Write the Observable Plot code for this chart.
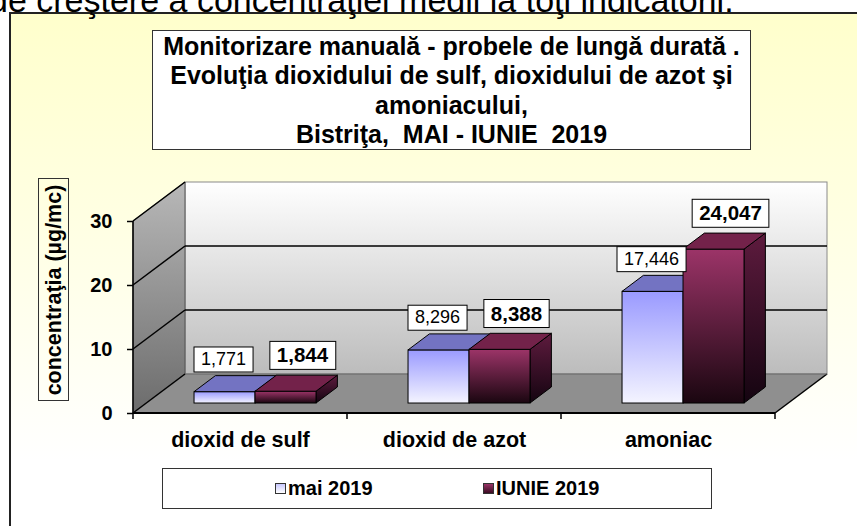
<!DOCTYPE html>
<html>
<head>
<meta charset="utf-8">
<script src="https://cdn.jsdelivr.net/npm/d3@7"></script>
<script src="https://cdn.jsdelivr.net/npm/@observablehq/plot@0.6"></script>
<style>
  html, body { margin: 0; padding: 0; }
  body { width: 857px; height: 526px; overflow: hidden; position: relative; background: #ffffff;
         font-family: "Liberation Sans", Arial, sans-serif; color: #000; }
  #panel { position: absolute; left: 9px; top: 12px; width: 860px; height: 530px;
           border: 2px solid #222; box-sizing: border-box;
           background: linear-gradient(#ffffcc 0%, #ffffe6 45%, #ffffff 85%); }
  #lead { position: absolute; left: -11px; top: -17px; font-size: 34px; line-height: 34px; white-space: nowrap; z-index: 5; }
  #chart { position: absolute; left: 0; top: 0; }
  #title { position: absolute; left: 152px; top: 30px; width: 599px; height: 120px; box-sizing: border-box;
           border: 1px solid #333; background: #fff; text-align: center; font-weight: bold;
           font-size: 25px; line-height: 29.3px; padding-top: 1px; white-space: nowrap; }
  #ytitle { position: absolute; left: 38px; top: 178px; width: 31px; height: 223px; box-sizing: border-box;
            border: 1px solid #333; }
  #ytitle span { position: absolute; left: 50%; top: 50%; transform: translate(-50%, -50%) rotate(-90deg);
                 white-space: nowrap; font-weight: bold; font-size: 21.5px; }
  #legend { position: absolute; left: 162px; top: 468px; width: 550px; height: 41px; box-sizing: border-box;
            border: 1px solid #333; background: #fff; font-weight: bold; font-size: 20px; }
  .item { position: absolute; top: 8px; line-height: 23px; white-space: nowrap; }
  .sw { display: inline-block; width: 9px; height: 9px; border: 1px solid #333; margin-right: 2px; vertical-align: 1px; }
</style>
</head>
<body>
<div id="panel"></div>
<div id="lead"></div>
<div id="chart"></div>
<div id="title"></div>
<div id="ytitle"><span></span></div>
<div id="legend"></div>
<script>
// ---------------- data ----------------
const leadText = "de creştere a concentraţiei medii la toţi indicatorii.";
const titleLines = [
  "Monitorizare manuală - probele de lungă durată .",
  "Evoluţia dioxidului de sulf, dioxidului de azot şi",
  "amoniacului,",
  "Bistriţa,\u00a0 MAI - IUNIE\u00a0 2019"
];
const yTitle = "concentraţia (µg/mc)";
const categories = ["dioxid de sulf", "dioxid de azot", "amoniac"];
const seriesNames = ["mai 2019", "IUNIE 2019"];
const mai2019 = [1.771, 8.296, 17.446];
const iunie2019 = [1.844, 8.388, 24.047];
const yTicks = [0, 10, 20, 30];

// ---------------- styles / layout constants ----------------
const DX = 52, DY = -39;             // depth projection of the 3D box
const Z0 = 0.256, Z1 = 0.667;        // bar depth (fraction of box depth)
const SLOT = [0.223, 0.508], SLOT_W = 0.285; // bar placement within each band
const LABEL_OFF = [[-1, -33], [17, -36]];
const seriesStyle = [
  {front: ["#9a9aff", "#f4f4ff"], top: "#7373c2", side: ["#50509c", "#2a2a60"], bold: false, font: 18, sw: ["#c8c8ff", "#ffffff"]},
  {front: ["#9c3468", "#1a0610"], top: "#73224a", side: ["#5e1b3e", "#140410"], bold: true, font: 20.5, sw: ["#993366", "#3a0c22"]}
];

const series = [mai2019, iunie2019];
const table = [];
categories.forEach((c, i) => series.forEach((s, j) => table.push({category: c, series: j, value: s[i]})));
const fmt = v => v.toFixed(3).replace(".", ",");

// ---------------- HTML texts ----------------
document.getElementById("lead").textContent = leadText;
document.getElementById("title").innerHTML = titleLines.map(t => `<div>${t}</div>`).join("");
document.querySelector("#ytitle span").textContent = yTitle;
document.getElementById("legend").innerHTML = seriesNames.map((n, j) =>
  `<div class="item" style="left:${j === 0 ? 112 : 320}px"><span class="sw" style="background:linear-gradient(${seriesStyle[j].sw[0]},${seriesStyle[j].sw[1]})"></span>${n}</div>`).join("");

function fnOf(s) {
  if (typeof s === "function") return s;
  return v => s.apply(v);
}
function getScales(scales) {
  const rx = (scales.scales && scales.scales.x) || scales.x;
  const ry = (scales.scales && scales.scales.y) || scales.y;
  const sx = fnOf(rx), sy = fnOf(ry);
  const bw = typeof rx.bandwidth === "function" ? rx.bandwidth() : rx.bandwidth;
  return {sx, sy, bw};
}
const path = pts => "M" + pts.map(p => p.join(",")).join("L") + "Z";

function addGrad(defs, id, c0, c1) {
  const lg = defs.append("linearGradient").attr("id", id).attr("x1", 0).attr("y1", 0).attr("x2", 0).attr("y2", 1);
  lg.append("stop").attr("offset", "0%").attr("stop-color", c0);
  lg.append("stop").attr("offset", "100%").attr("stop-color", c1);
}

// the 3D box: floor, side wall, back wall, grid
function scene(index, scales) {
  const {sx, sy, bw} = getScales(scales);
  const x0 = sx(categories[0]), x1 = sx(categories[categories.length - 1]) + bw;
  const y0 = sy(0), yT = sy(yTicks[yTicks.length - 1]);
  const g = d3.create("svg:g");
  const defs = g.append("defs");
  addGrad(defs, "gBack", "#ffffff", "#bcbcbc");
  addGrad(defs, "gSide", "#b8b8b8", "#6c6c6c");
  seriesStyle.forEach((s, j) => {
    addGrad(defs, "gFront" + j, s.front[0], s.front[1]);
    addGrad(defs, "gSide" + j, s.side[0], s.side[1]);
  });
  g.append("rect").attr("x", x0 + DX).attr("y", yT + DY).attr("width", x1 - x0).attr("height", y0 - yT)
    .attr("fill", "url(#gBack)").attr("stroke", "#8a8a8a").attr("stroke-width", 1);
  g.append("path").attr("d", path([[x0, y0], [x0, yT], [x0 + DX, yT + DY], [x0 + DX, y0 + DY]]))
    .attr("fill", "url(#gSide)").attr("stroke", "#555").attr("stroke-width", 1);
  g.append("path").attr("d", path([[x0, y0], [x1, y0], [x1 + DX, y0 + DY], [x0 + DX, y0 + DY]]))
    .attr("fill", "#8f8f8f");
  g.append("line").attr("x1", x1).attr("y1", y0).attr("x2", x1 + DX).attr("y2", y0 + DY)
    .attr("stroke", "#000").attr("stroke-width", 1.5);
  g.append("line").attr("x1", x0 + DX).attr("y1", y0 + DY).attr("x2", x1 + DX).attr("y2", y0 + DY)
    .attr("stroke", "#666").attr("stroke-width", 1);
  yTicks.forEach(t => {
    const y = sy(t);
    g.append("line").attr("x1", x0).attr("y1", y).attr("x2", x0 + DX).attr("y2", y + DY)
      .attr("stroke", "#000").attr("stroke-width", 1.5);
    if (t > 0 && t < yTicks[yTicks.length - 1])
      g.append("line").attr("x1", x0 + DX).attr("y1", y + DY).attr("x2", x1 + DX).attr("y2", y + DY)
        .attr("stroke", "#000").attr("stroke-width", 1.5);
  });
  g.append("line").attr("x1", x0).attr("y1", y0).attr("x2", x0).attr("y2", yT).attr("stroke", "#000").attr("stroke-width", 1.5);
  g.append("line").attr("x1", x0).attr("y1", y0).attr("x2", x1).attr("y2", y0).attr("stroke", "#000").attr("stroke-width", 2);
  [...categories.map(c => sx(c)), x1].forEach(x =>
    g.append("line").attr("x1", x).attr("y1", y0).attr("x2", x).attr("y2", y0 + 6).attr("stroke", "#000").attr("stroke-width", 1.5));
  return g.node();
}

// the 3D bars and their labels
function bars(index, scales) {
  const {sx, sy, bw} = getScales(scales);
  const g = d3.create("svg:g");
  const fx = Z0 * DX, fy = Z0 * DY, dd = Z1 - Z0;
  table.forEach(d => {
    const s = seriesStyle[d.series];
    const xl = sx(d.category) + SLOT[d.series] * bw + fx;
    const xr = xl + SLOT_W * bw;
    const yb = sy(0) + fy, yt = sy(d.value) + fy;
    const ox = dd * DX, oy = dd * DY;
    g.append("path").attr("d", path([[xr, yt], [xr + ox, yt + oy], [xr + ox, yb + oy], [xr, yb]]))
      .attr("fill", `url(#gSide${d.series})`).attr("stroke", "#000").attr("stroke-width", 1);
    g.append("rect").attr("x", xl).attr("y", yt).attr("width", xr - xl).attr("height", yb - yt)
      .attr("fill", `url(#gFront${d.series})`).attr("stroke", "#000").attr("stroke-width", 1);
    g.append("path").attr("d", path([[xl, yt], [xr, yt], [xr + ox, yt + oy], [xl + ox, yt + oy]]))
      .attr("fill", s.top).attr("stroke", "#000").attr("stroke-width", 1);
  });
  table.forEach(d => {
    const s = seriesStyle[d.series];
    const xc = sx(d.category) + (SLOT[d.series] + SLOT_W / 2) * bw + fx + LABEL_OFF[d.series][0];
    const yc = sy(d.value) + fy + LABEL_OFF[d.series][1];
    g.append("text").attr("class", "dlabel").attr("x", xc).attr("y", yc)
      .attr("text-anchor", "middle").attr("dy", "0.35em")
      .attr("font-size", s.font).attr("font-weight", s.bold ? "bold" : "normal")
      .attr("fill", "#000").text(fmt(d.value));
  });
  return g.node();
}

const chart = Plot.plot({
  width: 857, height: 526,
  marginLeft: 133, marginRight: 82, marginTop: 221, marginBottom: 113,
  x: {type: "band", domain: categories, padding: 0, axis: null},
  y: {type: "linear", domain: [yTicks[0], yTicks[yTicks.length - 1]], axis: null},
  style: {background: "transparent", overflow: "visible", fontFamily: "'Liberation Sans', Arial, sans-serif", color: "#000"},
  marks: [
    scene,
    Plot.axisY({ticks: yTicks, tickSize: 6, tickPadding: 15, fontSize: 20, fontWeight: "bold", label: null, strokeWidth: 1.5}),
    Plot.axisX({tickSize: 0, tickPadding: 18, fontSize: 21.5, fontWeight: "bold", label: null}),
    bars
  ]
});
document.getElementById("chart").appendChild(chart);

chart.querySelectorAll("text.dlabel").forEach(t => {
  const b = t.getBBox();
  const r = document.createElementNS("http://www.w3.org/2000/svg", "rect");
  r.setAttribute("x", b.x - 7); r.setAttribute("y", b.y - 2);
  r.setAttribute("width", b.width + 14); r.setAttribute("height", b.height + 5);
  r.setAttribute("fill", "#fff"); r.setAttribute("stroke", "#000"); r.setAttribute("stroke-width", 1);
  t.parentNode.insertBefore(r, t);
});
</script>
</body>
</html>
